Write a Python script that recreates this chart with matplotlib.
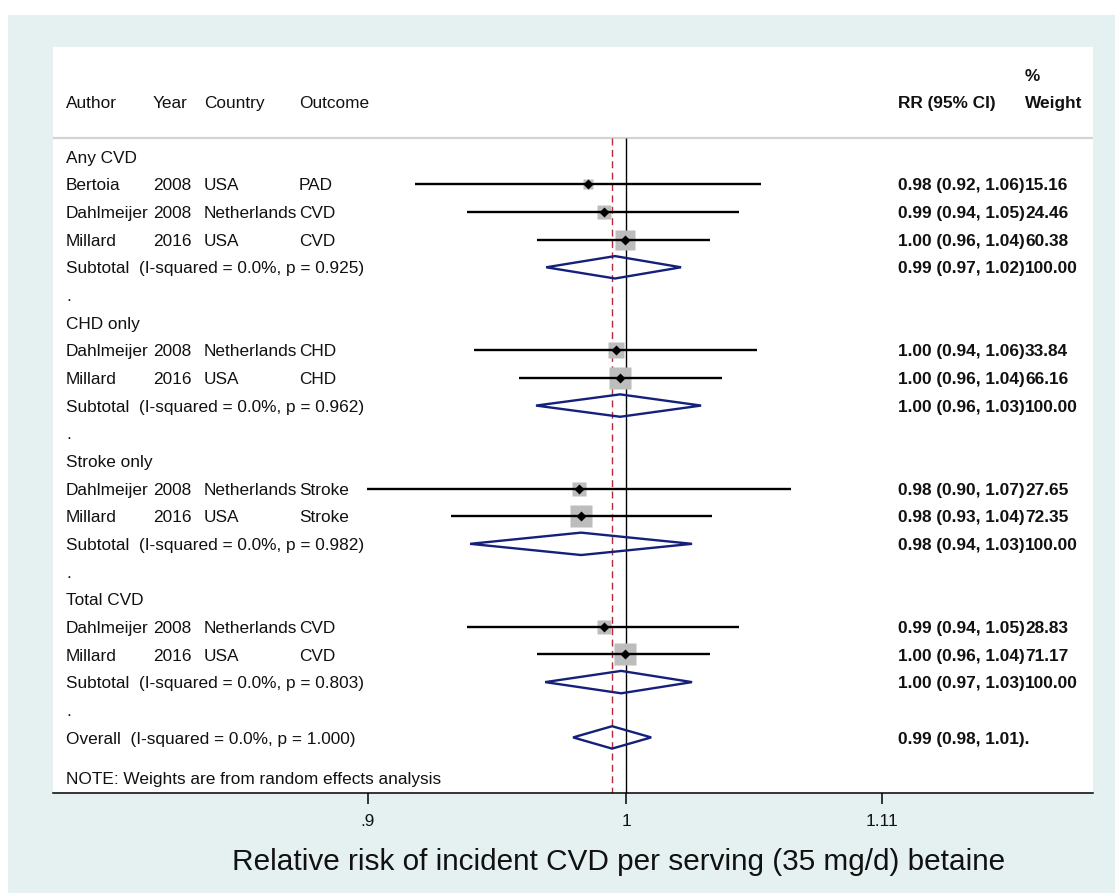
import matplotlib
matplotlib.use("Agg")
import matplotlib.pyplot as plt
from matplotlib.patches import Rectangle, Polygon
from matplotlib.transforms import blended_transform_factory
from matplotlib.ticker import NullLocator, FixedLocator, FixedFormatter

# ---------------- data ----------------
group_names = ['Any CVD', 'CHD only', 'Stroke only', 'Total CVD']
study_group = [0, 0, 0, 1, 1, 2, 2, 3, 3]
authors = ['Bertoia', 'Dahlmeijer', 'Millard', 'Dahlmeijer', 'Millard',
           'Dahlmeijer', 'Millard', 'Dahlmeijer', 'Millard']
years = ['2008', '2008', '2016', '2008', '2016', '2008', '2016', '2008', '2016']
countries = ['USA', 'Netherlands', 'USA', 'Netherlands', 'USA',
             'Netherlands', 'USA', 'Netherlands', 'USA']
outcomes = ['PAD', 'CVD', 'CVD', 'CHD', 'CHD', 'Stroke', 'Stroke', 'CVD', 'CVD']
rr = [0.9846, 0.9911, 0.9996, 0.9959, 0.9976, 0.9810, 0.9818, 0.9911, 0.9996]
lo = [0.9174, 0.9371, 0.9643, 0.9398, 0.9572, 0.8996, 0.9310, 0.9371, 0.9643]
hi = [1.0567, 1.0472, 1.0349, 1.0550, 1.0400, 1.0697, 1.0357, 1.0472, 1.0349]
weights = [15.16, 24.46, 60.38, 33.84, 66.16, 27.65, 72.35, 28.83, 71.17]
ci_text = ['0.98 (0.92, 1.06)', '0.99 (0.94, 1.05)', '1.00 (0.96, 1.04)',
           '1.00 (0.94, 1.06)', '1.00 (0.96, 1.04)', '0.98 (0.90, 1.07)',
           '0.98 (0.93, 1.04)', '0.99 (0.94, 1.05)', '1.00 (0.96, 1.04)']
weight_text = ['15.16', '24.46', '60.38', '33.84', '66.16', '27.65', '72.35', '28.83', '71.17']

sub_rr = [0.9955, 0.9976, 0.9818, 0.9980]
sub_lo = [0.9679, 0.9639, 0.9383, 0.9675]
sub_hi = [1.0227, 1.0311, 1.0273, 1.0273]
sub_i2 = ['0.0%', '0.0%', '0.0%', '0.0%']
sub_p = ['0.925', '0.962', '0.982', '0.803']
sub_ci_text = ['0.99 (0.97, 1.02)', '1.00 (0.96, 1.03)', '0.98 (0.94, 1.03)', '1.00 (0.97, 1.03)']
sub_weight_text = ['100.00', '100.00', '100.00', '100.00']

overall_rr = 0.9943
overall_lo = 0.9786
overall_hi = 1.0103
overall_i2 = '0.0%'
overall_p = '1.000'
overall_ci_text = '0.99 (0.98, 1.01)'
overall_weight_text = '.'

x_ticks = [0.9, 1.0, 1.11]
x_tick_labels = ['.9', '1', '1.11']
x_label = 'Relative risk of incident CVD per serving (35 mg/d) betaine'
note_text = 'NOTE: Weights are from random effects analysis'
headers_left = ['Author', 'Year', 'Country', 'Outcome']

# ---------------- figure ----------------
W, H = 1115, 893
plt.rcParams['font.family'] = ['Liberation Sans', 'DejaVu Sans']
fig = plt.figure(figsize=(W / 100, H / 100), dpi=100)
fig.patch.set_facecolor('white')
fig.add_artist(Rectangle((8 / W, 0), 1, (H - 15) / H, transform=fig.transFigure,
                         facecolor='#e5f1f1', edgecolor='none', zorder=-10))

ax_l, ax_r, ax_t, ax_b = 52.5, 1092.7, 47, 793
ax = fig.add_axes([ax_l / W, (H - ax_b) / H, (ax_r - ax_l) / W, (ax_b - ax_t) / H])
ax.set_facecolor('white')
ax.set_xscale('log')
ax.set_xlim(0.7912, 1.2099)
ax.set_ylim(23.01, -3.966)

def fx(px):
    return (px - ax_l) / (ax_r - ax_l)

def fy(py):
    return (ax_b - py) / (ax_b - ax_t)

tr = blended_transform_factory(ax.transAxes, ax.transData)
fs = 12.4
dy = 0.06  # small text offset so glyphs sit centred on the row line
col_x = [fx(66), fx(153), fx(204), fx(299)]
rr_x = fx(898)
wt_x = fx(1025)

def txt(x, y, s, bold=False):
    ax.text(x, y + dy, s, transform=tr, fontsize=fs, va='center', ha='left',
            fontweight='bold' if bold else 'normal', color='#111111')

# headers
for xx, h in zip(col_x, headers_left):
    txt(xx, -1.975, h)
txt(rr_x, -1.975, 'RR (95% CI)', bold=True)
txt(wt_x, -1.975, 'Weight', bold=True)
txt(wt_x, -2.95, '%', bold=True)

sep_y = -0.68
ax.axhline(sep_y, color='#d3d3d3', lw=1.6, zorder=1)

y_bottom = 23.01
ax.vlines(1.0, sep_y, y_bottom, color='black', lw=1.0, zorder=2)
ax.vlines(overall_rr, sep_y, y_bottom, color='#b8283c', lw=1.0,
          linestyles=(0, (5, 3.2)), zorder=2)

navy = '#14207a'

def diamond(y, l, c, h):
    ax.add_patch(Polygon([(l, y), (c, y - 0.405), (h, y), (c, y + 0.405)],
                         closed=True, fill=False, edgecolor=navy, lw=1.7, zorder=4))

row = 0
for g, gname in enumerate(group_names):
    txt(col_x[0], row, gname)
    row += 1
    for i in [k for k, sg in enumerate(study_group) if sg == g]:
        txt(col_x[0], row, authors[i])
        txt(col_x[1], row, years[i])
        txt(col_x[2], row, countries[i])
        txt(col_x[3], row, outcomes[i])
        txt(rr_x, row, ci_text[i], bold=True)
        txt(wt_x, row, weight_text[i], bold=True)
        side_px = 2.7 * weights[i] ** 0.5
        ax.plot([rr[i]], [row], marker='s', ms=side_px * 0.72, color='#bdbdbd',
                mec='none', zorder=3)
        ax.hlines(row, lo[i], hi[i], color='black', lw=1.7, zorder=3.5)
        ax.plot([rr[i]], [row], marker='D', ms=5, color='black', mec='none', zorder=5)
        row += 1
    txt(col_x[0], row, f'Subtotal  (I-squared = {sub_i2[g]}, p = {sub_p[g]})')
    txt(rr_x, row, sub_ci_text[g], bold=True)
    txt(wt_x, row, sub_weight_text[g], bold=True)
    diamond(row, sub_lo[g], sub_rr[g], sub_hi[g])
    row += 1
    txt(col_x[0], row, '.')
    row += 1

txt(col_x[0], row, f'Overall  (I-squared = {overall_i2}, p = {overall_p})')
txt(rr_x, row, overall_ci_text + overall_weight_text, bold=True)
diamond(row, overall_lo, overall_rr, overall_hi)

txt(col_x[0], row + 1.45, note_text)

# axes styling
for s in ['top', 'left', 'right']:
    ax.spines[s].set_visible(False)
ax.spines['bottom'].set_linewidth(1.1)
ax.yaxis.set_visible(False)
ax.xaxis.set_major_locator(FixedLocator(x_ticks))
ax.xaxis.set_major_formatter(FixedFormatter(x_tick_labels))
ax.xaxis.set_minor_locator(NullLocator())
ax.tick_params(axis='x', length=8, width=1.1, labelsize=12.4, pad=7, labelcolor='#111111')
ax.set_xlabel(x_label, fontsize=21.4, color='#111111')
ax.xaxis.label.set_va('center')
ax.xaxis.set_label_coords(fx(619), fy(862))

fig.savefig('out.png', dpi=100, facecolor=fig.get_facecolor())
